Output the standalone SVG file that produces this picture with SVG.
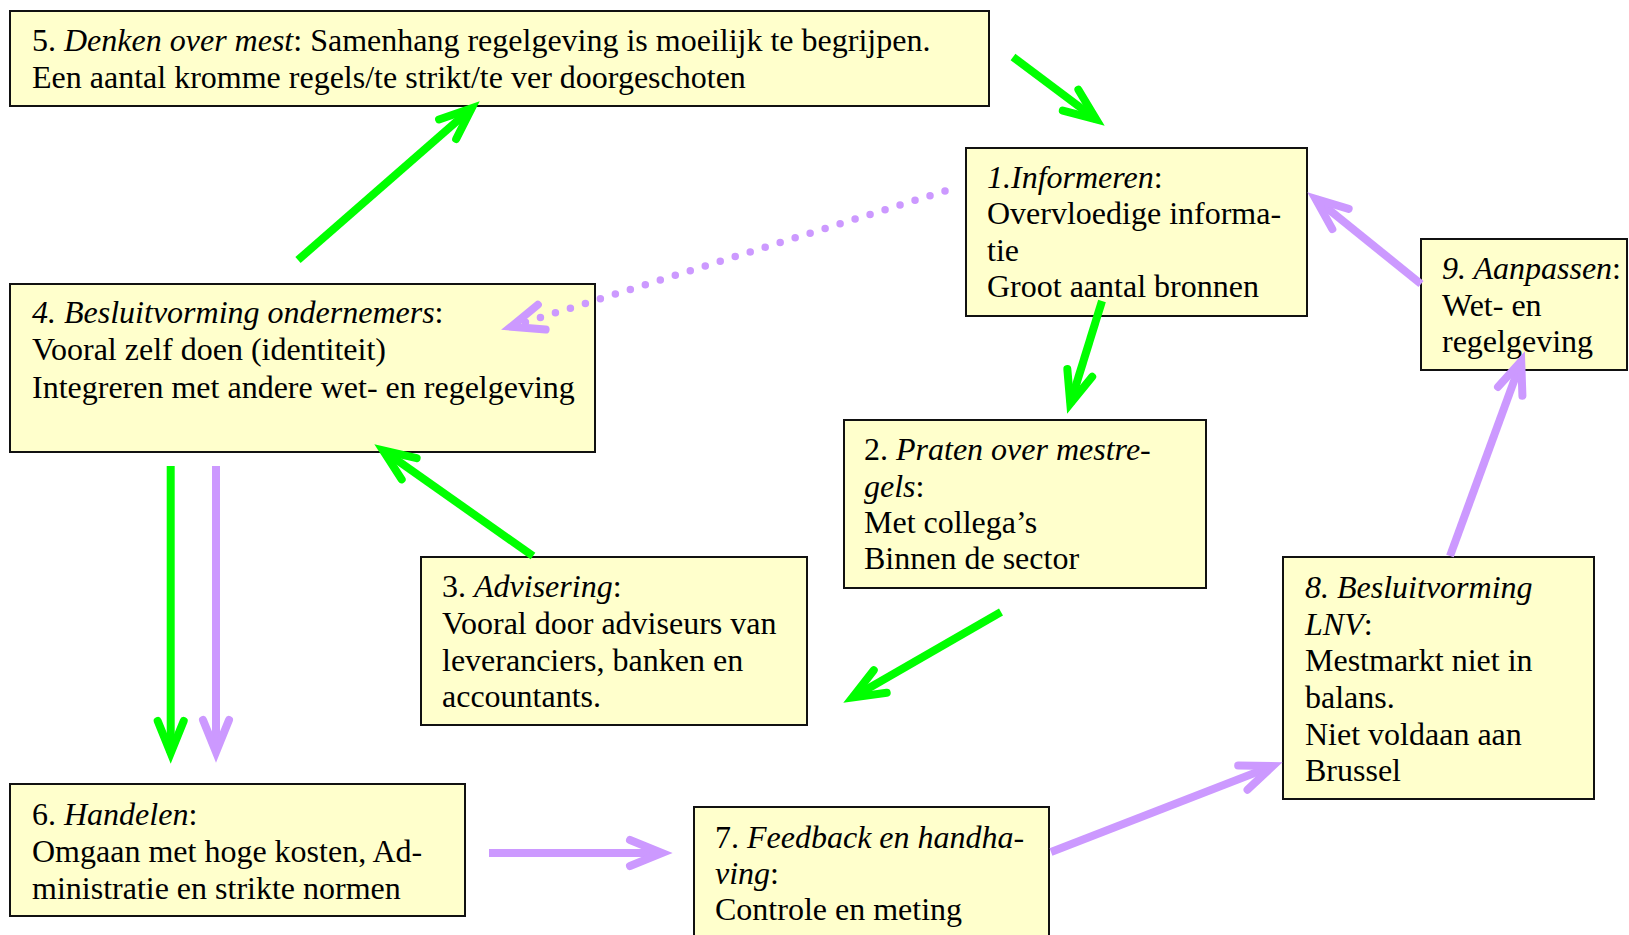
<svg xmlns="http://www.w3.org/2000/svg" width="1629" height="935" viewBox="0 0 1629 935">
<style>
.box{fill:#ffffcc;stroke:#111;stroke-width:2}
text{font-family:"Liberation Serif","Times New Roman",serif;font-size:32px;fill:#000}
.i{font-style:italic}
.g{stroke:#00ff00;stroke-width:8;fill:none}
.p{stroke:#cc99ff;stroke-width:8;fill:none}
.d{stroke:#cc99ff;stroke-width:7.5;fill:none;stroke-linecap:round;stroke-dasharray:0 15.7}
</style>
<defs>
<marker id="ag" markerUnits="userSpaceOnUse" orient="auto" refX="0" refY="0" markerWidth="80" markerHeight="80" overflow="visible">
<path d="M-32,-13 L0,0 L-32,13" fill="none" stroke="#00ff00" stroke-width="8" stroke-linecap="round" stroke-linejoin="miter" stroke-miterlimit="10"/>
</marker>
<marker id="ap" markerUnits="userSpaceOnUse" orient="auto" refX="0" refY="0" markerWidth="80" markerHeight="80" overflow="visible">
<path d="M-32,-13 L0,0 L-32,13" fill="none" stroke="#cc99ff" stroke-width="8" stroke-linecap="round" stroke-linejoin="miter" stroke-miterlimit="10"/>
</marker>
</defs>
<rect width="1629" height="935" fill="#fff"/>

<g id="node5">
<rect class="box" x="10" y="11" width="979" height="95"/>
<text x="32" y="51">5. <tspan class="i">Denken over mest</tspan>: Samenhang regelgeving is moeilijk te begrijpen.</text>
<text x="32" y="88">Een aantal kromme regels/te strikt/te ver doorgeschoten</text>
</g>

<g id="node1">
<rect class="box" x="966" y="148" width="341" height="168"/>
<text x="987" y="188"><tspan class="i">1.Informeren</tspan>:</text>
<text x="987" y="224">Overvloedige informa-</text>
<text x="987" y="261">tie</text>
<text x="987" y="297">Groot aantal bronnen</text>
</g>

<g id="node9">
<rect class="box" x="1421" y="239" width="206" height="131"/>
<text x="1442" y="279"><tspan class="i">9. Aanpassen</tspan>:</text>
<text x="1442" y="316">Wet- en</text>
<text x="1442" y="352">regelgeving</text>
</g>

<g id="node4">
<rect class="box" x="10" y="284" width="585" height="168"/>
<text x="32" y="323"><tspan class="i">4. Besluitvorming ondernemers</tspan>:</text>
<text x="32" y="360">Vooral zelf doen (identiteit)</text>
<text x="32" y="398">Integreren met andere wet- en regelgeving</text>
</g>

<g id="node2">
<rect class="box" x="844" y="420" width="362" height="168"/>
<text x="864" y="460">2. <tspan class="i">Praten over mestre-</tspan></text>
<text x="864" y="497"><tspan class="i">gels</tspan>:</text>
<text x="864" y="533">Met collega’s</text>
<text x="864" y="569">Binnen de sector</text>
</g>

<g id="node3">
<rect class="box" x="421" y="557" width="386" height="168"/>
<text x="442" y="597">3. <tspan class="i">Advisering</tspan>:</text>
<text x="442" y="634">Vooral door adviseurs van</text>
<text x="442" y="671">leveranciers, banken en</text>
<text x="442" y="707">accountants.</text>
</g>

<g id="node8">
<rect class="box" x="1283" y="557" width="311" height="242"/>
<text x="1305" y="598"><tspan class="i">8. Besluitvorming</tspan></text>
<text x="1305" y="635"><tspan class="i">LNV</tspan>:</text>
<text x="1305" y="671">Mestmarkt niet in</text>
<text x="1305" y="708">balans.</text>
<text x="1305" y="745">Niet voldaan aan</text>
<text x="1305" y="781">Brussel</text>
</g>

<g id="node6">
<rect class="box" x="10" y="784" width="455" height="132"/>
<text x="32" y="825">6. <tspan class="i">Handelen</tspan>:</text>
<text x="32" y="862">Omgaan met hoge kosten, Ad-</text>
<text x="32" y="899">ministratie en strikte normen</text>
</g>

<g id="node7">
<rect class="box" x="694" y="807" width="355" height="150"/>
<text x="715" y="848">7. <tspan class="i">Feedback en handha-</tspan></text>
<text x="715" y="884"><tspan class="i">ving</tspan>:</text>
<text x="715" y="920">Controle en meting</text>
</g>

<g id="connectors">
<line class="g" x1="1013" y1="57" x2="1096.2" y2="119.4" marker-end="url(#ag)"/>
<line class="g" x1="298" y1="260" x2="471.7" y2="108.2" marker-end="url(#ag)"/>
<line class="g" x1="1102" y1="301" x2="1070.3" y2="403.5" marker-end="url(#ag)"/>
<line class="g" x1="1001" y1="612" x2="852.5" y2="697.5" marker-end="url(#ag)"/>
<line class="g" x1="533" y1="556" x2="383" y2="450.3" marker-end="url(#ag)"/>
<line class="g" x1="170.7" y1="466" x2="170.7" y2="753" marker-end="url(#ag)"/>
<line class="p" x1="216" y1="466" x2="216" y2="752" marker-end="url(#ap)"/>
<line class="p" x1="489" y1="853" x2="662" y2="853" marker-end="url(#ap)"/>
<line class="p" x1="1051" y1="852" x2="1272.7" y2="766" marker-end="url(#ap)"/>
<line class="p" x1="1450" y1="556" x2="1521.2" y2="361.3" marker-end="url(#ap)"/>
<line class="p" x1="1421" y1="284" x2="1315.6" y2="198.9" marker-end="url(#ap)"/>
<line class="d" x1="945" y1="191" x2="511.2" y2="326.7" marker-end="url(#ap)"/>
</g>
</svg>
